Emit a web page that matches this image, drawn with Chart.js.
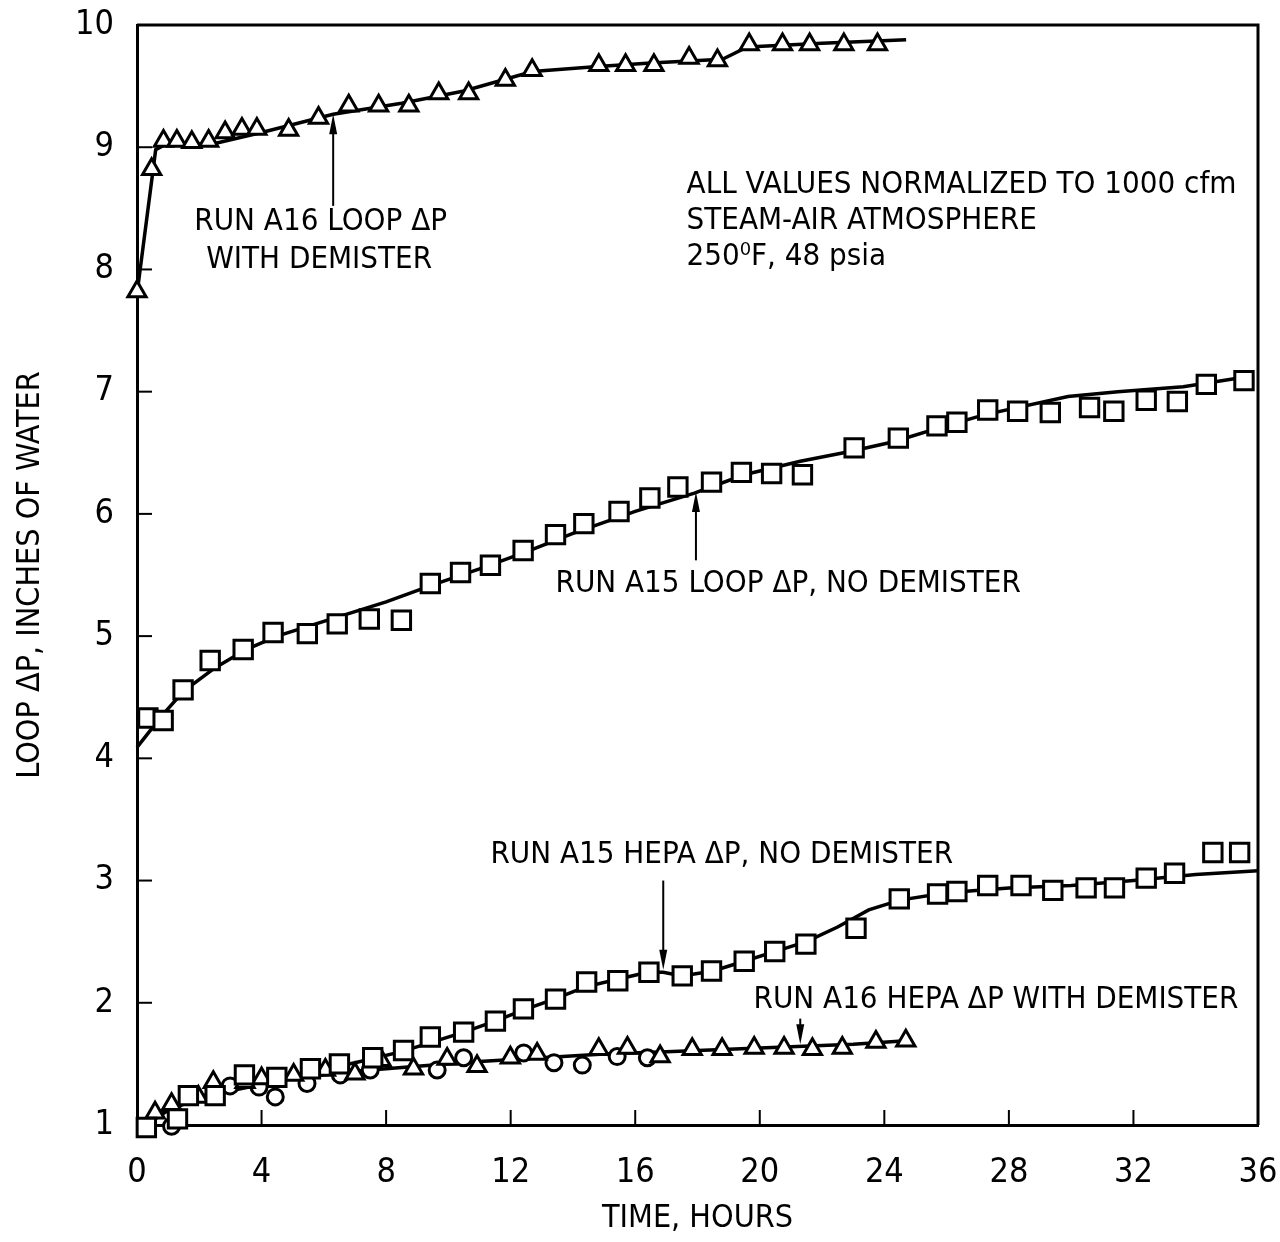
<!DOCTYPE html>
<html>
<head>
<meta charset="utf-8">
<script src="https://cdn.jsdelivr.net/npm/chart.js@4.4.0/dist/chart.umd.min.js"></script>
<style>
  html, body { margin: 0; padding: 0; background: #fff; }
  #wrap { width: 1280px; height: 1242px; }
</style>
</head>
<body>
<div id="wrap"><canvas id="c" width="1280" height="1242"></canvas></div>
<script>
const FONT = "'DejaVu Sans Condensed', 'Liberation Sans Narrow', 'DejaVu Sans', sans-serif";

// values: time in hours, delta-P in inches of water
const a16LoopTime = [0, 0.47, 0.85, 1.28, 1.76, 2.3, 2.83, 3.37, 3.85, 4.87, 5.83, 6.8, 7.76, 8.73, 9.69, 10.65, 11.83, 12.69, 14.83, 15.69, 16.6, 17.73, 18.64, 19.66, 20.73, 21.6, 22.7, 23.78];
const a16LoopDp = [7.82, 8.82, 9.05, 9.05, 9.04, 9.05, 9.12, 9.15, 9.15, 9.14, 9.24, 9.34, 9.34, 9.34, 9.44, 9.44, 9.55, 9.63, 9.67, 9.67, 9.67, 9.73, 9.71, 9.84, 9.84, 9.84, 9.84, 9.84];
const a16LoopFitTime = [0, 0.6, 0.9, 2.5, 4, 6.3, 8.5, 10.5, 12.7, 14.8, 16.5, 18.8, 19.6, 22, 24.7];
const a16LoopFitDp = [7.8, 8.98, 9.02, 9.03, 9.12, 9.27, 9.36, 9.46, 9.62, 9.66, 9.69, 9.72, 9.82, 9.85, 9.88];

const a15LoopTime = [0.35, 0.84, 1.48, 2.35, 3.41, 4.37, 5.47, 6.43, 7.46, 8.49, 9.42, 10.39, 11.35, 12.4, 13.44, 14.35, 15.48, 16.47, 17.37, 18.45, 19.41, 20.38, 21.37, 23.03, 24.45, 25.69, 26.33, 27.32, 28.28, 29.33, 30.59, 31.37, 32.41, 33.41, 34.34, 35.55];
const a15LoopDp = [4.33, 4.31, 4.56, 4.8, 4.89, 5.03, 5.02, 5.1, 5.14, 5.13, 5.43, 5.52, 5.58, 5.7, 5.83, 5.92, 6.02, 6.13, 6.22, 6.26, 6.34, 6.33, 6.32, 6.54, 6.62, 6.72, 6.75, 6.85, 6.84, 6.83, 6.87, 6.84, 6.93, 6.92, 7.06, 7.09];
const a15LoopFitTime = [0, 0.8, 1.5, 2.5, 3.5, 4.5, 6, 8, 9.5, 11, 12.5, 14, 16, 17.9, 19.5, 21.3, 22.9, 24.3, 25.7, 27.2, 29.9, 31.5, 33.6, 35.6];
const a15LoopFitDp = [4.09, 4.35, 4.55, 4.74, 4.89, 5.0, 5.12, 5.28, 5.42, 5.55, 5.69, 5.84, 6.02, 6.17, 6.32, 6.43, 6.51, 6.59, 6.7, 6.81, 6.96, 7.0, 7.04, 7.12];

const a15HepaTime = [0.3, 1.3, 1.65, 2.51, 3.45, 4.49, 5.57, 6.5, 7.57, 8.56, 9.42, 10.49, 11.51, 12.41, 13.44, 14.44, 15.44, 16.44, 17.51, 18.45, 19.5, 20.48, 21.48, 23.09, 24.48, 25.71, 26.33, 27.32, 28.39, 29.41, 30.48, 31.39, 32.41, 33.32, 34.55, 35.41];
const a15HepaDp = [0.98, 1.05, 1.24, 1.24, 1.41, 1.39, 1.46, 1.5, 1.55, 1.61, 1.72, 1.76, 1.85, 1.95, 2.03, 2.17, 2.18, 2.25, 2.22, 2.26, 2.34, 2.42, 2.48, 2.61, 2.85, 2.89, 2.91, 2.96, 2.96, 2.92, 2.94, 2.94, 3.02, 3.06, 3.23, 3.23];
const a15HepaFitTime = [0.3, 1, 2, 3, 4, 5.5, 7, 8.5, 9.5, 10.5, 11.5, 12.4, 13.4, 14.4, 15.4, 16.4, 16.9, 17.5, 18.5, 19.5, 20.5, 21.5, 22.5, 23.5, 24.5, 26, 28, 30, 32, 34, 36];
const a15HepaFitDp = [1.0, 1.12, 1.22, 1.28, 1.33, 1.43, 1.51, 1.6, 1.68, 1.76, 1.85, 1.94, 2.03, 2.13, 2.19, 2.25, 2.25, 2.22, 2.26, 2.34, 2.42, 2.5, 2.62, 2.76, 2.84, 2.9, 2.94, 2.96, 3.0, 3.05, 3.08];

const a16HepaTime = [0.58, 1.11, 1.97, 2.45, 3.47, 4.0, 5.03, 6.05, 7.0, 7.84, 8.88, 9.96, 10.92, 11.99, 12.85, 14.83, 15.75, 16.8, 17.83, 18.79, 19.82, 20.78, 21.69, 22.65, 23.73, 24.69];
const a16HepaDp = [1.1, 1.17, 1.23, 1.35, 1.35, 1.38, 1.41, 1.45, 1.42, 1.53, 1.46, 1.54, 1.48, 1.55, 1.58, 1.62, 1.63, 1.56, 1.62, 1.62, 1.63, 1.63, 1.62, 1.63, 1.68, 1.69];
const a16HepaCircTime = [1.11, 2.99, 3.92, 4.44, 5.46, 6.53, 7.49, 9.64, 10.49, 12.42, 13.39, 14.3, 15.42, 16.39];
const a16HepaCircDp = [0.99, 1.32, 1.31, 1.23, 1.34, 1.41, 1.45, 1.45, 1.55, 1.59, 1.51, 1.49, 1.56, 1.55];
const a16HepaFitTime = [0.3, 1.5, 3, 5, 7, 9, 11, 13, 15, 17, 19, 21, 23, 24.7];
const a16HepaFitDp = [1.05, 1.2, 1.3, 1.38, 1.44, 1.48, 1.52, 1.55, 1.58, 1.6, 1.62, 1.64, 1.66, 1.69];

const xRange = [0, 36, 4];
const yRange = [1, 10, 1];

// labels placed in data units
const notes = [
  { text: 'RUN A16 LOOP \u0394P', x: 5.9, y: 8.39, align: 'center' },
  { text: 'WITH DEMISTER', x: 5.85, y: 8.08, align: 'center' },
  { text: 'ALL VALUES NORMALIZED TO 1000 cfm', x: 17.65, y: 8.69, align: 'left' },
  { text: 'STEAM-AIR ATMOSPHERE', x: 17.65, y: 8.4, align: 'left' },
  { text: '250\u2070F, 48 psia', x: 17.65, y: 8.1, align: 'left' },
  { text: 'RUN A15 LOOP \u0394P, NO DEMISTER', x: 13.44, y: 5.43, align: 'left' },
  { text: 'RUN A15 HEPA \u0394P, NO DEMISTER', x: 11.35, y: 3.21, align: 'left' },
  { text: 'RUN A16 HEPA \u0394P WITH DEMISTER', x: 19.8, y: 2.02, align: 'left' }
];
const arrows = [
  { x: 6.3, from: 8.52, to: 9.27 },
  { x: 17.95, from: 5.62, to: 6.18 },
  { x: 16.9, from: 3.0, to: 2.27 },
  { x: 21.3, from: 1.87, to: 1.66 }
];

function pts(xs, ys) {
  return xs.map((x, i) => ({ x: x, y: ys[i] }));
}

function markers(label, xs, ys, style, r) {
  return {
    label: label, data: pts(xs, ys), showLine: false, order: 1, clip: false,
    pointStyle: style, pointRadius: r, pointBackgroundColor: '#fff',
    pointBorderColor: '#000', pointBorderWidth: 3
  };
}

function fit(label, xs, ys) {
  return {
    label: label, data: pts(xs, ys), showLine: true, order: 2, clip: false,
    borderColor: '#000', borderWidth: 3.5, pointRadius: 0, tension: 0
  };
}

// fixed box sizes so the plot area lands where the original has it
function fixX(s) {
  s.height = 117;
  s.paddingLeft = 0; s.paddingRight = 0; s.paddingTop = 0; s.paddingBottom = 0;
}
function fixY(s) {
  s.width = 137;
  s.paddingLeft = 0; s.paddingRight = 0; s.paddingTop = 0; s.paddingBottom = 0;
}

const framePlugin = {
  id: 'frame',
  beforeDatasetsDraw(chart) {
    const { ctx, chartArea: a, scales: { x, y } } = chart;
    ctx.save();
    ctx.strokeStyle = '#000';
    ctx.lineWidth = 3;
    ctx.beginPath();
    ctx.moveTo(a.left, a.top);
    ctx.lineTo(a.right, a.top);
    ctx.lineTo(a.right, a.bottom);
    ctx.stroke();
    // inward ticks
    ctx.lineWidth = 2;
    x.ticks.forEach(t => {
      if (t.value <= x.min || t.value >= x.max) return;
      const px = x.getPixelForValue(t.value);
      ctx.beginPath();
      ctx.moveTo(px, a.bottom);
      ctx.lineTo(px, a.bottom - 15);
      ctx.stroke();
    });
    y.ticks.forEach(t => {
      if (t.value <= y.min || t.value >= y.max) return;
      const py = y.getPixelForValue(t.value);
      ctx.beginPath();
      ctx.moveTo(a.left, py);
      ctx.lineTo(a.left + 15, py);
      ctx.stroke();
    });
    ctx.restore();
  },
  afterDatasetsDraw(chart) {
    const { ctx, scales: { x, y } } = chart;
    ctx.save();
    ctx.fillStyle = '#000';
    ctx.strokeStyle = '#000';
    ctx.font = '31px ' + FONT;
    ctx.textBaseline = 'middle';
    notes.forEach(n => {
      ctx.textAlign = n.align;
      ctx.fillText(n.text, x.getPixelForValue(n.x), y.getPixelForValue(n.y));
    });
    ctx.lineWidth = 2;
    arrows.forEach(ar => {
      const px = x.getPixelForValue(ar.x);
      const y0 = y.getPixelForValue(ar.from);
      const y1 = y.getPixelForValue(ar.to);
      const dir = y1 < y0 ? 1 : -1;
      ctx.beginPath();
      ctx.moveTo(px, y0);
      ctx.lineTo(px, y1 + dir * 14);
      ctx.stroke();
      ctx.beginPath();
      ctx.moveTo(px, y1);
      ctx.lineTo(px - 4, y1 + dir * 20);
      ctx.lineTo(px + 4, y1 + dir * 20);
      ctx.closePath();
      ctx.fill();
    });
    ctx.restore();
  }
};

const tickFont = { family: FONT, size: 34 };
const titleFont = { family: FONT, size: 32 };

new Chart(document.getElementById('c'), {
  type: 'scatter',
  data: {
    datasets: [
      markers('Run A16 loop \u0394P', a16LoopTime, a16LoopDp, 'triangle', 10.5),
      markers('Run A15 loop \u0394P', a15LoopTime, a15LoopDp, 'rect', 13),
      markers('Run A15 HEPA \u0394P', a15HepaTime, a15HepaDp, 'rect', 13),
      markers('Run A16 HEPA \u0394P', a16HepaTime, a16HepaDp, 'triangle', 10.5),
      markers('Run A16 HEPA \u0394P (circles)', a16HepaCircTime, a16HepaCircDp, 'circle', 8),
      fit('A16 loop fit', a16LoopFitTime, a16LoopFitDp),
      fit('A15 loop fit', a15LoopFitTime, a15LoopFitDp),
      fit('A15 HEPA fit', a15HepaFitTime, a15HepaFitDp),
      fit('A16 HEPA fit', a16HepaFitTime, a16HepaFitDp)
    ]
  },
  options: {
    responsive: false,
    animation: false,
    devicePixelRatio: 1,
    layout: { padding: { top: 25, right: 22, left: 0, bottom: 0 } },
    plugins: { legend: { display: false }, tooltip: { enabled: false } },
    scales: {
      x: {
        type: 'linear', min: xRange[0], max: xRange[1],
        ticks: { stepSize: xRange[2], color: '#000', font: tickFont, padding: 20 },
        grid: { display: false },
        border: { color: '#000', width: 3 },
        title: { display: true, text: 'TIME, HOURS', color: '#000', font: titleFont, padding: { top: 0, bottom: 4 } },
        afterFit: fixX
      },
      y: {
        type: 'linear', min: yRange[0], max: yRange[1],
        ticks: { stepSize: yRange[2], color: '#000', font: tickFont, padding: 15 },
        grid: { display: false },
        border: { color: '#000', width: 3 },
        title: { display: true, text: 'LOOP \u0394P, INCHES OF WATER', color: '#000', font: titleFont, padding: { top: 11, bottom: 0 } },
        afterFit: fixY
      }
    }
  },
  plugins: [framePlugin]
});
</script>
</body>
</html>
